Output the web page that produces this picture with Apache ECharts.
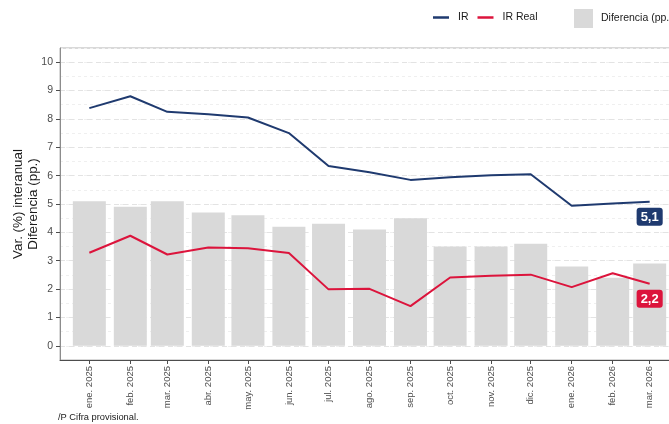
<!DOCTYPE html>
<html>
<head>
<meta charset="utf-8">
<script src="https://cdn.jsdelivr.net/npm/echarts@6/dist/echarts.min.js"></script>
<style>html,body{margin:0;padding:0;background:#fff}#c{width:669px;height:424px}</style>
</head>
<body>
<div id="c"></div>
<script>
const months = ['2025-01-01','2025-02-01','2025-03-01','2025-04-01','2025-05-01','2025-06-01','2025-07-01','2025-08-01','2025-09-01','2025-10-01','2025-11-01','2025-12-01','2026-01-01','2026-02-01','2026-03-01'];
const tickLabels = ['ene. 2025','feb. 2025','mar. 2025','abr. 2025','may. 2025','jun. 2025','jul. 2025','ago. 2025','sep. 2025','oct. 2025','nov. 2025','dic. 2025','ene. 2026','feb. 2026','mar. 2026'];
const irValues = [8.38, 8.80, 8.25, 8.16, 8.05, 7.50, 6.34, 6.12, 5.85, 5.94, 6.01, 6.05, 4.94, 5.02, 5.08];
const irRealValues = [3.28, 3.88, 3.22, 3.47, 3.44, 3.27, 1.99, 2.01, 1.40, 2.41, 2.47, 2.51, 2.07, 2.56, 2.19];
const diffValues = [5.1, 4.9, 5.1, 4.7, 4.6, 4.2, 4.3, 4.1, 4.5, 3.5, 3.5, 3.6, 2.8, 2.4, 2.9];
const yTickValues = [0,1,2,3,4,5,6,7,8,9,10];

// x positions as days since the first month (date axis, uneven month lengths)
const toDay = s => { const p = s.split('-').map(Number); return Date.UTC(p[0], p[1]-1, p[2]) / 86400000; };
const day0 = toDay(months[0]);
const monthDays = months.map(s => toDay(s) - day0);
const xMin = monthDays[0] - 22.2;
const xMax = monthDays[monthDays.length - 1] + 22.2;

const navy = '#1f3a6f';
const red = '#dc143c';
const fmt = v => v.toFixed(1).replace('.', ',');

function lineData(vals, color) {
  return vals.map((v, i) => {
    const item = { value: [monthDays[i], v] };
    if (i === vals.length - 1) {
      item.label = {
        show: true, position: 'bottom', distance: 6,
        formatter: fmt(Math.round(v * 10) / 10),
        backgroundColor: color, color: '#fff', fontWeight: 'bold',
        fontSize: 13, fontFamily: 'Liberation Sans, Arial, sans-serif',
        padding: [2, 4, 1, 4], borderRadius: 3, lineHeight: 15
      };
    }
    return item;
  });
}

const chart = echarts.init(document.getElementById('c'), null, { renderer: 'canvas' });
const font = 'Liberation Sans, Arial, sans-serif';
chart.setOption({
  animation: false,
  backgroundColor: '#fff',
  textStyle: { fontFamily: font },
  title: {
    text: '/P Cifra provisional.', left: 58, top: 413, padding: 0,
    textStyle: { fontSize: 9.3, fontWeight: 'normal', color: '#1a1a1a', fontFamily: font }
  },
  legend: [
    {
      data: ['IR', 'IR Real'], left: 433, top: 12, icon: 'rect', padding: 0,
      itemWidth: 16, itemHeight: 2.5, itemGap: 9,
      textStyle: { fontSize: 10.5, color: '#1a1a1a', fontFamily: font, padding: [0, 0, 0, 4] }
    },
    {
      data: ['Diferencia (pp.)'], left: 574, top: 9, icon: 'rect', padding: 0,
      itemWidth: 19, itemHeight: 19,
      textStyle: { fontSize: 10.5, color: '#1a1a1a', fontFamily: font, padding: [0, 0, 0, 3] }
    }
  ],
  grid: { left: 60, right: -10, top: 48, bottom: 64, show: true, borderColor: '#b3b3b3', borderWidth: 1, containLabel: false, outerBoundsMode: 'none' },
  xAxis: {
    type: 'value', min: xMin, max: xMax,
    axisLine: { show: true, onZero: false, lineStyle: { color: '#4d4d4d', width: 1 } },
    axisTick: { show: true, customValues: monthDays, length: 4, lineStyle: { color: '#4d4d4d' } },
    axisLabel: {
      customValues: monthDays, rotate: 90, margin: 6, fontSize: 9.5, color: '#4d4d4d', fontFamily: font,
      formatter: v => { const i = monthDays.indexOf(v); return i >= 0 ? tickLabels[i] : ''; }
    },
    splitLine: { show: false }
  },
  yAxis: [
    {
      type: 'value', min: -0.5, max: 10.5, interval: 0.5, position: 'left',
      axisLine: { show: false }, axisTick: { show: false }, axisLabel: { show: false },
      splitLine: { show: true, lineStyle: { color: '#efefef', type: [3, 3], width: 1 } }
    },
    {
      type: 'value', min: -0.5, max: 10.5, interval: 0.5, position: 'left', offset: 0,
      name: 'Var. (%) interanual\nDiferencia (pp.)', nameLocation: 'middle', nameGap: 19, nameRotate: 90,
      nameMoveOverlap: false,
      nameTextStyle: { fontSize: 13.4, color: '#1a1a1a', lineHeight: 15, fontFamily: font },
      axisLine: { show: true, onZero: false, lineStyle: { color: '#8c8c8c' } },
      axisTick: { show: true, customValues: yTickValues, length: 4, lineStyle: { color: '#4d4d4d' } },
      axisLabel: { customValues: yTickValues, margin: 7, fontSize: 10.5, color: '#4d4d4d', fontFamily: font },
      splitLine: { show: true, lineStyle: { color: '#e3e3e3', type: [5, 4], width: 1 } }
    }
  ],
  series: [
    {
      name: 'Diferencia (pp.)', type: 'bar', yAxisIndex: 1, barWidth: 33,
      itemStyle: { color: '#d9d9d9' },
      data: diffValues.map((v, i) => [monthDays[i], v]), z: 1
    },
    {
      name: 'IR', type: 'line', yAxisIndex: 1, showSymbol: true, symbol: 'circle', symbolSize: 0,
      lineStyle: { color: navy, width: 2 }, itemStyle: { color: navy },
      data: lineData(irValues, navy), z: 3
    },
    {
      name: 'IR Real', type: 'line', yAxisIndex: 1, showSymbol: true, symbol: 'circle', symbolSize: 0,
      lineStyle: { color: red, width: 2 }, itemStyle: { color: red },
      data: lineData(irRealValues, red), z: 3
    }
  ]
});
</script>
</body>
</html>
